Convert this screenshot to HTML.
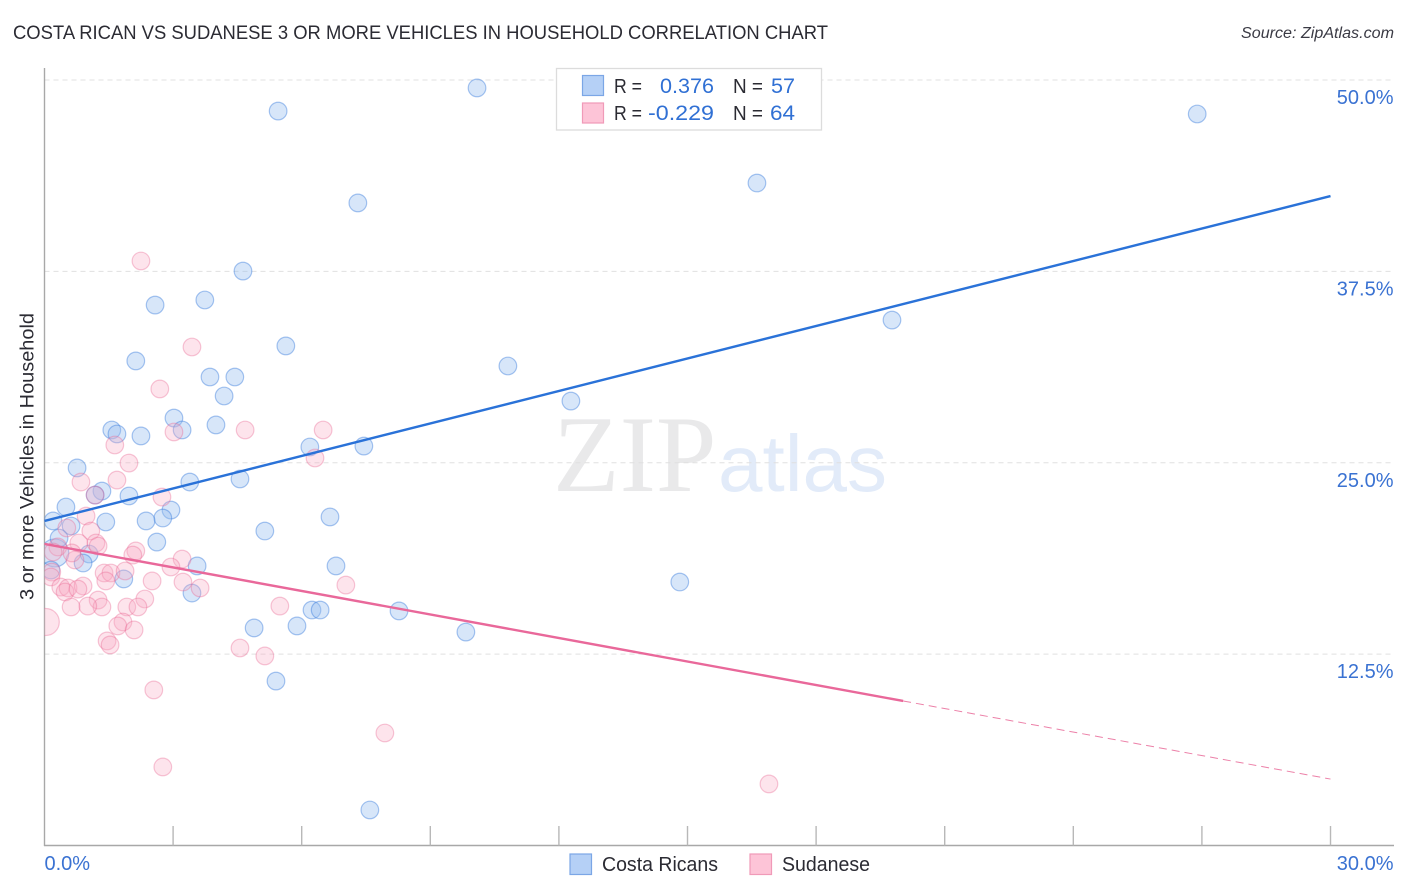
<!DOCTYPE html>
<html>
<head>
<meta charset="utf-8">
<title>Costa Rican vs Sudanese 3 or More Vehicles in Household Correlation Chart</title>
<style>
html,body{margin:0;padding:0;background:#fff;width:1406px;height:892px;overflow:hidden}
svg{display:block;font-family:"Liberation Sans",sans-serif}
</style>
</head>
<body>
<svg id="chart" width="1406" height="892" viewBox="0 0 1406 892">
  <defs><clipPath id="plot-clip"><rect x="44.5" y="60" width="1350" height="785.5"/></clipPath></defs>
  <text x="13" y="39" font-size="19" fill="#2b2b33" textLength="815" lengthAdjust="spacingAndGlyphs">COSTA RICAN VS SUDANESE 3 OR MORE VEHICLES IN HOUSEHOLD CORRELATION CHART</text>
  <text x="1394" y="38" font-size="15.5" font-style="italic" fill="#3a3a44" text-anchor="end" textLength="153" lengthAdjust="spacingAndGlyphs">Source: ZipAtlas.com</text>
  <g>
    <text x="553" y="491" font-family="'Liberation Serif',serif" font-size="109" fill="#e9e9ea">ZIP</text>
    <text x="718" y="491" font-size="80" fill="#e2ebf9">atlas</text>
  </g>
  <g id="grid"></g>
  <g id="axes"></g>
  <g id="blue-points" clip-path="url(#plot-clip)"></g>
  <g id="pink-points" clip-path="url(#plot-clip)"></g>
  <g id="trends"></g>
  <g>
    <rect x="556.5" y="68.5" width="265" height="61.5" fill="#fff" stroke="#dcdcdc" stroke-width="1.3"/>
    <rect x="582.5" y="75.5" width="21" height="20" fill="#b5d0f6" stroke="#7ba6e6" stroke-width="1.2"/>
    <rect x="582.5" y="103" width="21" height="20" fill="#fdc4d7" stroke="#f09ab8" stroke-width="1.2"/>
    <g font-size="20" fill="#2b2b33">
      <text x="614" y="93" textLength="28" lengthAdjust="spacingAndGlyphs">R =</text>
      <text x="733" y="93" textLength="30" lengthAdjust="spacingAndGlyphs">N =</text>
      <text x="614" y="120" textLength="28" lengthAdjust="spacingAndGlyphs">R =</text>
      <text x="733" y="120" textLength="30" lengthAdjust="spacingAndGlyphs">N =</text>
    </g>
    <g font-size="21" fill="#3070d4">
      <text x="660" y="93" textLength="54" lengthAdjust="spacingAndGlyphs">0.376</text>
      <text x="771" y="93" textLength="24" lengthAdjust="spacingAndGlyphs">57</text>
      <text x="648" y="120" textLength="66" lengthAdjust="spacingAndGlyphs">-0.229</text>
      <text x="770" y="120" textLength="25" lengthAdjust="spacingAndGlyphs">64</text>
    </g>
  </g>
  <g>
    <rect x="570" y="854" width="21.5" height="20.5" fill="#b5d0f6" stroke="#7ba6e6" stroke-width="1.2"/>
    <text x="602" y="871" font-size="20" fill="#2b2b33" textLength="116" lengthAdjust="spacingAndGlyphs">Costa Ricans</text>
    <rect x="750" y="854" width="21.5" height="20.5" fill="#fdc4d7" stroke="#f09ab8" stroke-width="1.2"/>
    <text x="782" y="871" font-size="20" fill="#2b2b33" textLength="88" lengthAdjust="spacingAndGlyphs">Sudanese</text>
  </g>
  <text transform="translate(33.5,456.5) rotate(-90)" font-size="19.5" fill="#2b2b33" text-anchor="middle" textLength="287" lengthAdjust="spacingAndGlyphs">3 or more Vehicles in Household</text>
</svg>
<script>
const yTickValues = [12.5, 25, 37.5, 50];
const yTickLabels = ["12.5%", "25.0%", "37.5%", "50.0%"];
const xTickValues = [3, 6, 9, 12, 15, 18, 21, 24, 27, 30];
const xEndValues = [0, 30];
const xEndLabels = ["0.0%", "30.0%"];

const blueX = [5.45,10.09,26.89,16.62,7.31,4.63,3.74,2.58,19.77,5.63,2.13,10.81,3.86,4.44,4.19,12.28,3.02,4.00,3.21,1.57,1.69,2.25,6.19,7.45,0.76,4.56,3.39,1.34,1.18,1.97,0.50,2.95,2.76,2.37,1.43,6.66,0.20,0.62,5.14,2.62,0.34,1.04,3.56,6.80,0.90,0.15,1.85,14.82,3.44,8.27,6.24,6.43,5.89,9.83,4.89,5.40,7.59];
const blueY = [47.97,49.48,47.78,43.27,41.97,37.52,35.63,35.30,34.32,32.63,31.65,31.32,30.60,30.60,29.36,29.03,27.92,27.47,27.14,27.14,26.88,26.75,26.03,26.09,24.66,23.94,23.74,23.15,22.89,22.83,22.11,21.91,21.39,21.20,21.13,21.46,21.20,20.87,20.54,19.82,20.08,19.04,18.26,18.26,18.45,17.99,17.41,17.21,16.49,15.32,15.38,15.38,14.34,13.94,14.21,10.74,2.32];
const blueLargeX = [0.24];
const blueLargeY = [19.11];

const pinkX = [2.25,3.44,2.69,6.50,4.68,3.02,1.64,6.31,1.97,1.69,0.85,1.18,2.74,0.97,1.08,0.52,0.80,1.20,1.25,2.13,2.06,0.71,0.31,0.20,0.64,3.21,2.95,0.17,0.15,1.39,1.55,1.88,1.43,2.51,3.23,3.63,7.03,0.38,0.55,0.48,0.90,0.78,2.34,1.25,1.34,1.92,2.18,1.01,0.62,5.49,1.83,1.71,2.09,1.46,1.53,4.56,5.14,2.55,7.94,2.76,16.90];
const pinkY = [38.18,32.56,29.82,27.14,27.14,27.01,26.16,25.31,24.98,23.87,23.74,22.89,22.76,21.52,20.54,20.74,19.76,19.76,19.56,19.24,18.97,18.65,19.50,19.17,19.11,18.71,18.19,17.86,17.54,17.80,17.80,17.93,17.28,17.28,17.21,16.82,17.01,16.88,16.82,16.56,16.95,16.75,16.10,16.03,15.58,15.58,15.58,15.64,15.58,15.64,14.60,14.34,14.08,13.36,13.10,12.90,12.38,10.16,7.35,5.13,4.02];
const pinkLargeX = [0.03];
const pinkLargeY = [14.60];

const blueTrendX = [0, 30];
const blueTrendY = [21.2, 42.42];
const pinkTrendX = [0, 20.03, 30];
const pinkTrendY = [19.7, 9.44, 4.34];

const NS = "http://www.w3.org/2000/svg";
function xScale(v) { return 44.5 + v * 42.867; }
function yScale(v) { return 845.5 - v * 15.31; }
function make(tag, attrs, parent) {
  const el = document.createElementNS(NS, tag);
  for (const k in attrs) el.setAttribute(k, attrs[k]);
  parent.appendChild(el);
  return el;
}

const gridG = document.getElementById("grid");
const axesG = document.getElementById("axes");

yTickValues.forEach(function (v, i) {
  const line = make("line", {x1: 44.5, x2: 1394, y1: yScale(v), y2: yScale(v), stroke: "#e0e0e0", "stroke-width": 1, "stroke-dasharray": "5 4"}, gridG);
  
  
  const label = make("text", {x: 1393.5, y: yScale(v) + 24, "text-anchor": "end", "font-size": 20, fill: "#3a72d2"}, axesG);
  label.textContent = yTickLabels[i];
  
  
});

const yAxis = make("line", {x1: 44.5, x2: 44.5, y1: 68, y2: 846, stroke: "#a8a8a8", "stroke-width": 1.4}, axesG);


const xAxis = make("line", {x1: 44, x2: 1394, y1: 845.5, y2: 845.5, stroke: "#a8a8a8", "stroke-width": 1.4}, axesG);



xTickValues.forEach(function (v) {
  const tick = make("line", {x1: xScale(v), x2: xScale(v), y1: 826, y2: 845.5, stroke: "#b8b8b8", "stroke-width": 1.4}, axesG);
  
  
});

xEndValues.forEach(function (v, i) {
  const label = make("text", {x: i === 0 ? xScale(v) : 1393.5, y: 870, "text-anchor": i === 0 ? "start" : "end", "font-size": 20, fill: "#3a72d2"}, axesG);
  label.textContent = xEndLabels[i];
  
  
});

const blueG = document.getElementById("blue-points");
const pinkG = document.getElementById("pink-points");

function drawBlue(xs, ys, r) {
  xs.forEach(function (v, i) {
    const c = make("circle", {cx: xScale(v), cy: yScale(ys[i]), r: r, fill: "rgba(150,190,240,0.38)", stroke: "rgba(50,120,220,0.42)", "stroke-width": 1.2}, blueG);
    
    
  });
}
function drawPink(xs, ys, r) {
  xs.forEach(function (v, i) {
    const c = make("circle", {cx: xScale(v), cy: yScale(ys[i]), r: r, fill: "rgba(248,170,195,0.32)", stroke: "rgba(232,100,145,0.36)", "stroke-width": 1.2}, pinkG);
    
    
  });
}
drawBlue(blueLargeX, blueLargeY, 14);
drawBlue(blueX, blueY, 8.8);
drawPink(pinkLargeX, pinkLargeY, 13.5);
drawPink(pinkX, pinkY, 8.8);

const trendG = document.getElementById("trends");
const blueTrend = make("line", {x1: xScale(blueTrendX[0]), y1: yScale(blueTrendY[0]), x2: xScale(blueTrendX[1]), y2: yScale(blueTrendY[1]), stroke: "#2a72d8", "stroke-width": 2.4}, trendG);


const pinkSolid = make("line", {x1: xScale(pinkTrendX[0]), y1: yScale(pinkTrendY[0]), x2: xScale(pinkTrendX[1]), y2: yScale(pinkTrendY[1]), stroke: "#e9689a", "stroke-width": 2.4}, trendG);


const pinkDash = make("line", {x1: xScale(pinkTrendX[1]), y1: yScale(pinkTrendY[1]), x2: xScale(pinkTrendX[2]), y2: yScale(pinkTrendY[2]), stroke: "#ec80a8", "stroke-width": 1, "stroke-dasharray": "8 5"}, trendG);


</script>
</body>
</html>
